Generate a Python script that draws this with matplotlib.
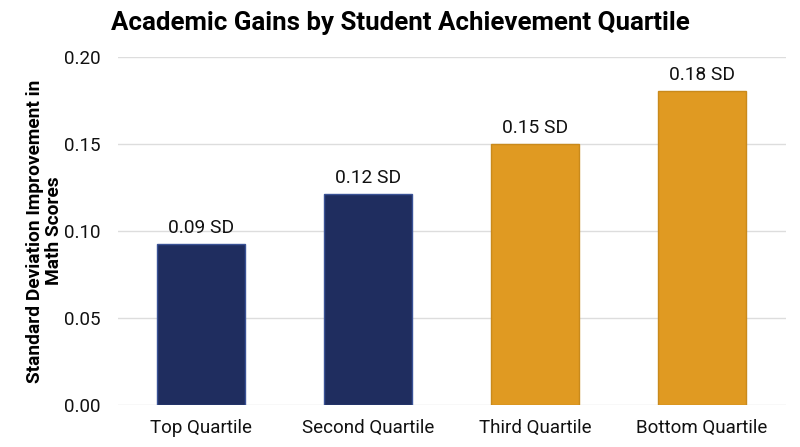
import numpy as np
import matplotlib.pyplot as plt

plt.rcParams['font.family'] = ['Roboto', 'DejaVu Sans']

categories = ['Top Quartile', 'Second Quartile', 'Third Quartile', 'Bottom Quartile']
values = [0.0925, 0.121, 0.150, 0.1805]
labels = ['0.09 SD', '0.12 SD', '0.15 SD', '0.18 SD']
colors = ['#1f2d5f', '#1f2d5f', '#e09a22', '#e09a22']
edges = ['#3a5296', '#3a5296', '#c98a1c', '#c98a1c']

fig = plt.figure(figsize=(8, 4.47), dpi=100)
ax = fig.add_axes([0.1469, 0.094, 0.835, 0.7785])

x = np.arange(len(categories))
ax.bar(x, values, width=0.53, color=colors, edgecolor=edges, linewidth=1, zorder=3)

for xi, v, lab in zip(x, values, labels):
    ax.text(xi, v + 0.004, lab, ha='center', va='bottom', fontsize=13.8, color='#111111')

ax.set_xlim(-0.5, 3.5)
ax.set_ylim(0, 0.2)
ax.set_yticks([0, 0.05, 0.10, 0.15, 0.20])
ax.set_yticklabels(['0.00', '0.05', '0.10', '0.15', '0.20'])
ax.set_xticks(x)
ax.set_xticklabels(categories)
ax.tick_params(axis='both', length=0, labelsize=13.5, colors='#111111')
ax.tick_params(axis='x', pad=10)
ax.tick_params(axis='y', pad=12)
ax.grid(axis='y', color='#dddddd', linewidth=1, zorder=0)
for s in ax.spines.values():
    s.set_visible(False)

ax.set_ylabel('Standard Deviation Improvement in\nMath Scores', fontsize=13.8,
              fontweight='bold', labelpad=1, linespacing=1.05)
fig.suptitle('Academic Gains by Student Achievement Quartile', fontsize=18.6,
             fontweight='bold', x=0.5, y=0.975)

fig.savefig('out.png', dpi=100)
